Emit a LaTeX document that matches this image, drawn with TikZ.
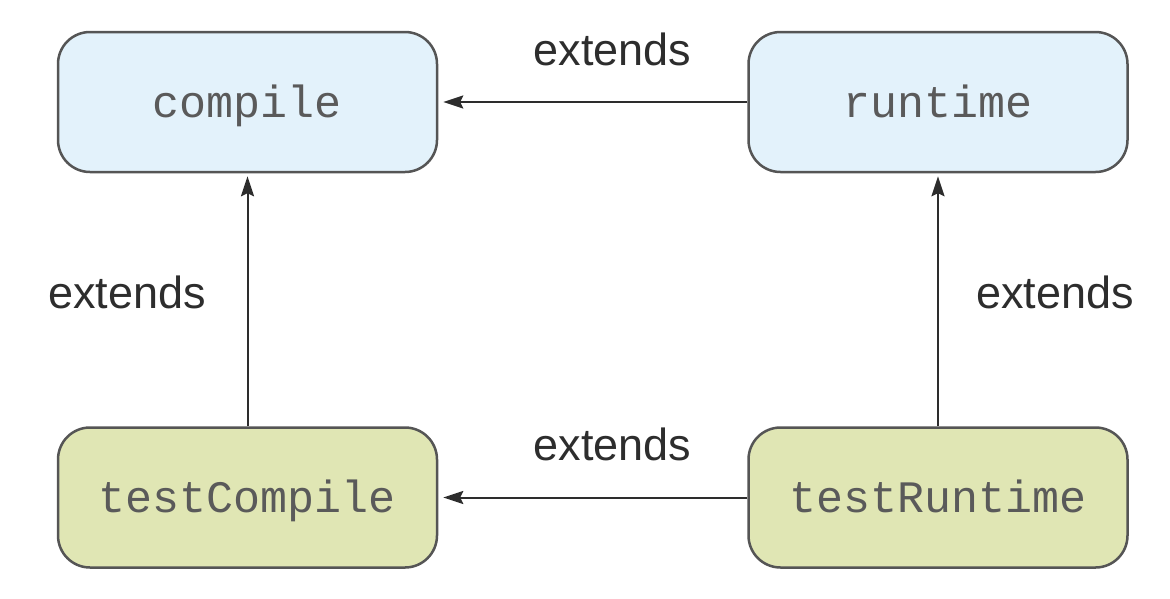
\documentclass[tikz,border=0pt]{standalone}
\usepackage{fontspec}
\setmainfont{Liberation Sans}
\setmonofont{Liberation Mono}
\usetikzlibrary{arrows.meta}
\definecolor{bluefill}{RGB}{227,242,251}
\definecolor{greenfill}{RGB}{224,230,180}
\definecolor{edgegray}{RGB}{85,85,85}
\definecolor{textgray}{RGB}{90,90,90}
\definecolor{labelgray}{RGB}{45,45,45}
\begin{document}
\begin{tikzpicture}[x=1pt,y=-1pt,
  box/.style={draw=edgegray,line width=2.5pt,rounded corners=32pt,
    minimum width=379pt,minimum height=140pt,inner sep=0pt,
    text height=33pt,text depth=3pt,
    font=\ttfamily\fontsize{45}{54}\selectfont,text=textgray},
  bluebox/.style={box,fill=bluefill},
  greenbox/.style={box,fill=greenfill},
  arr/.style={draw=labelgray,line width=2pt,
    -{Stealth[length=20pt,width=13pt,inset=3pt]},shorten >=5pt},
  lbl/.style={font=\fontsize{45}{54}\selectfont,text=labelgray,anchor=base,inner sep=0pt}
]
\useasboundingbox (0,0) rectangle (1170,598);
\node[bluebox] (compile) at (247.5,102) {compile};
\node[bluebox] (runtime) at (938,102) {runtime};
\node[greenbox] (testCompile) at (247.5,497.5) {testCompile};
\node[greenbox] (testRuntime) at (938,497.5) {testRuntime};
\draw[arr] (runtime.west) -- (compile.east);
\draw[arr] (testRuntime.west) -- (testCompile.east);
\draw[arr,shorten >=3pt] (testCompile.north) -- (compile.south);
\draw[arr,shorten >=3pt] (testRuntime.north) -- (runtime.south);
\node[lbl] (l1) at (612.5,65) {extends};
\node[lbl] (l2) at (612.5,460) {extends};
\node[lbl] (l3) at (127,308) {extends};
\node[lbl] (l4) at (1055,308) {extends};
\end{tikzpicture}
\end{document}
